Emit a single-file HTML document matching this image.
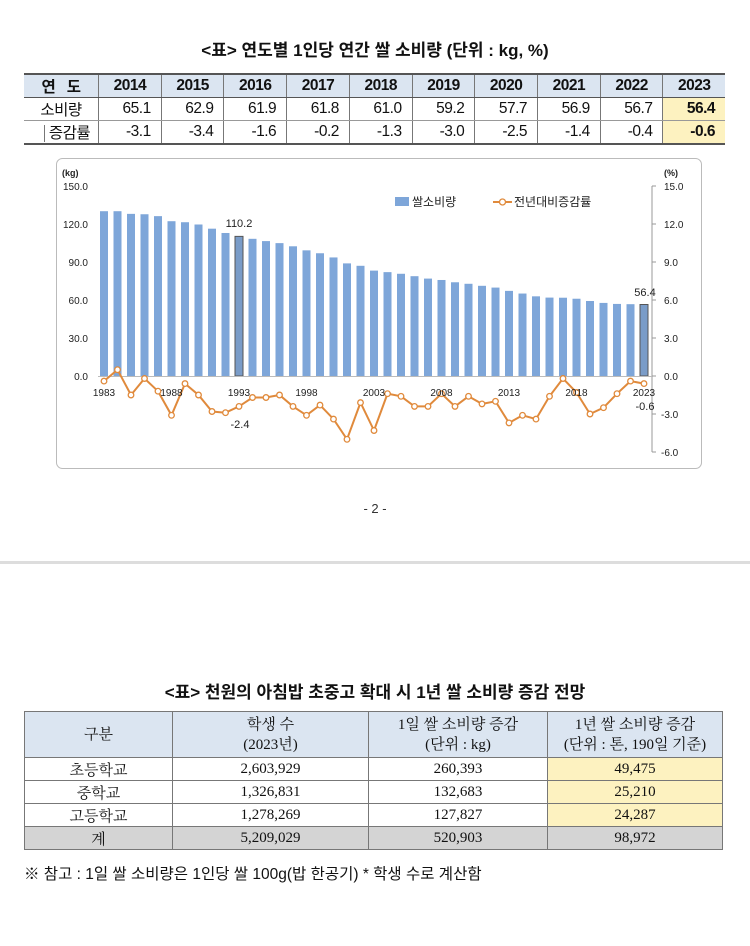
<!DOCTYPE html>
<html><head><meta charset="utf-8">
<style>
body{margin:0;width:750px;height:946px;background:#fff;position:relative;overflow:hidden;font-family:"Liberation Sans","Noto Sans CJK KR",sans-serif;color:#111}
.a{position:absolute}
table{border-collapse:collapse;position:absolute}
.t1{left:24px;top:73px;width:701px;font-size:15.5px}
.t1 td{height:22px;padding:0;text-align:center;border-left:1px solid #777;border-bottom:1px solid #999;letter-spacing:-0.5px}
.t1 tr:first-child td{background:#dbe5f1;border-top:2px solid #555;border-bottom:1px solid #555;font-weight:bold}
.t1 tr:last-child td{border-bottom:2px solid #555}
.t1 td:first-child{border-left:none}
.t1 td.num{text-align:right;padding-right:10px}
.y{background:#fdf2c0;font-weight:bold}
.t2{left:24px;top:711px;width:699px;font-family:"Liberation Serif","Noto Serif CJK SC",serif;font-size:15px}
.t2 td{border:1px solid #777;text-align:center;padding:0;height:22px}
.t2 tr:first-child td{background:#dbe5f1;height:45px;line-height:20px}
.t2 tr.tot td{background:#d4d4d4}
</style></head><body>
<div class="a" style="left:0;top:36px;width:750px;text-align:center;font-size:17px;font-weight:bold">&lt;표&gt; 연도별 1인당 연간 쌀 소비량 (단위 : kg, %)</div>
<table class="t1">
<tr><td style="width:74px">연 &nbsp; 도</td><td>2014</td><td>2015</td><td>2016</td><td>2017</td><td>2018</td><td>2019</td><td>2020</td><td>2021</td><td>2022</td><td>2023</td></tr>
<tr><td>소비량</td><td class="num">65.1</td><td class="num">62.9</td><td class="num">61.9</td><td class="num">61.8</td><td class="num">61.0</td><td class="num">59.2</td><td class="num">57.7</td><td class="num">56.9</td><td class="num">56.7</td><td class="num y">56.4</td></tr>
<tr><td style="padding-left:12px"><span style="border-left:1px solid #777;padding-left:4px">증감률</span></td><td class="num">-3.1</td><td class="num">-3.4</td><td class="num">-1.6</td><td class="num">-0.2</td><td class="num">-1.3</td><td class="num">-3.0</td><td class="num">-2.5</td><td class="num">-1.4</td><td class="num">-0.4</td><td class="num y">-0.6</td></tr>
</table>

<svg class="a" style="left:0;top:0" width="750" height="480" font-family="Liberation Sans, Noto Sans CJK KR, sans-serif">
<rect x="56.5" y="158.5" width="645" height="310" rx="6" fill="#fff" stroke="#bbb"/>
<g font-size="9" fill="#222" font-weight="bold">
<text x="62" y="176">(kg)</text><text x="664" y="176">(%)</text>
</g>
<g font-size="10" fill="#222" text-anchor="end">
<text x="88" y="190">150.0</text><text x="88" y="228">120.0</text><text x="88" y="266">90.0</text><text x="88" y="304">60.0</text><text x="88" y="342">30.0</text><text x="88" y="380">0.0</text>
</g>
<g font-size="10" fill="#222">
<text x="664" y="190">15.0</text><text x="664" y="228">12.0</text><text x="664" y="266">9.0</text><text x="664" y="304">6.0</text><text x="664" y="342">3.0</text><text x="664" y="380">0.0</text><text x="661" y="418">-3.0</text><text x="661" y="456">-6.0</text>
</g>
<line x1="652" y1="186" x2="652" y2="452" stroke="#999"/>
<g stroke="#999"><line x1="652" y1="186" x2="656" y2="186"/><line x1="652" y1="224" x2="656" y2="224"/><line x1="652" y1="262" x2="656" y2="262"/><line x1="652" y1="300" x2="656" y2="300"/><line x1="652" y1="338" x2="656" y2="338"/><line x1="652" y1="376" x2="656" y2="376"/><line x1="652" y1="414" x2="656" y2="414"/><line x1="652" y1="452" x2="656" y2="452"/></g>
<g transform="translate(0,376) scale(1,-1.2667)" fill="#7ea6d9">
<rect x="100" width="8" height="130.1"/><rect x="113.5" width="8" height="130.1"/><rect x="127" width="8" height="128"/><rect x="140.5" width="8" height="127.7"/><rect x="154" width="8" height="126.2"/>
<rect x="167.5" width="8" height="122.2"/><rect x="181" width="8" height="121.4"/><rect x="194.5" width="8" height="119.6"/><rect x="208" width="8" height="116.3"/><rect x="221.5" width="8" height="112.9"/>
<rect x="235" width="8" height="110.2" fill="#7a9cc8" stroke="#555" stroke-width="1" vector-effect="non-scaling-stroke"/><rect x="248.5" width="8" height="108.3"/><rect x="262" width="8" height="106.5"/><rect x="275.5" width="8" height="104.9"/><rect x="289" width="8" height="102.4"/>
<rect x="302.5" width="8" height="99.2"/><rect x="316" width="8" height="96.9"/><rect x="329.5" width="8" height="93.6"/><rect x="343" width="8" height="88.9"/><rect x="356.5" width="8" height="87"/>
<rect x="370" width="8" height="83.2"/><rect x="383.5" width="8" height="82"/><rect x="397" width="8" height="80.7"/><rect x="410.5" width="8" height="78.8"/><rect x="424" width="8" height="76.9"/>
<rect x="437.5" width="8" height="75.8"/><rect x="451" width="8" height="74"/><rect x="464.5" width="8" height="72.8"/><rect x="478" width="8" height="71.2"/><rect x="491.5" width="8" height="69.8"/>
<rect x="505" width="8" height="67.2"/><rect x="518.5" width="8" height="65.1"/><rect x="532" width="8" height="62.9"/><rect x="545.5" width="8" height="61.9"/><rect x="559" width="8" height="61.8"/>
<rect x="572.5" width="8" height="61"/><rect x="586" width="8" height="59.2"/><rect x="599.5" width="8" height="57.7"/><rect x="613" width="8" height="56.9"/><rect x="626.5" width="8" height="56.7"/>
<rect x="640" width="8" height="56.4" fill="#7a9cc8" stroke="#555" stroke-width="1" vector-effect="non-scaling-stroke"/>
</g>
<line x1="98" y1="376.5" x2="652" y2="376.5" stroke="#bbb"/>
<polyline fill="none" stroke="#e08a3c" stroke-width="2" points="104,381.1 117.5,369.7 131,395 144.5,378.5 158,391.2 171.5,415.3 185,383.6 198.5,395 212,411.5 225.5,412.7 239,406.4 252.5,397.5 266,397.5 279.5,395 293,406.4 306.5,415.3 320,405.1 333.5,419.1 347,439.3 360.5,402.6 374,430.5 387.5,393.7 401,396.3 414.5,406.4 428,406.4 441.5,393.7 455,406.4 468.5,396.3 482,403.9 495.5,401.3 509,422.9 522.5,415.3 536,419.1 549.5,396.3 563,378.5 576.5,392.5 590,414 603.5,407.7 617,393.7 630.5,381.1 644,383.6"/>
<g fill="#fff" stroke="#e08a3c" stroke-width="1.3">
<circle cx="104" cy="381.1" r="2.8"/><circle cx="117.5" cy="369.7" r="2.8"/><circle cx="131" cy="395" r="2.8"/><circle cx="144.5" cy="378.5" r="2.8"/><circle cx="158" cy="391.2" r="2.8"/><circle cx="171.5" cy="415.3" r="2.8"/><circle cx="185" cy="383.6" r="2.8"/><circle cx="198.5" cy="395" r="2.8"/><circle cx="212" cy="411.5" r="2.8"/><circle cx="225.5" cy="412.7" r="2.8"/><circle cx="239" cy="406.4" r="2.8"/><circle cx="252.5" cy="397.5" r="2.8"/><circle cx="266" cy="397.5" r="2.8"/><circle cx="279.5" cy="395" r="2.8"/><circle cx="293" cy="406.4" r="2.8"/><circle cx="306.5" cy="415.3" r="2.8"/><circle cx="320" cy="405.1" r="2.8"/><circle cx="333.5" cy="419.1" r="2.8"/><circle cx="347" cy="439.3" r="2.8"/><circle cx="360.5" cy="402.6" r="2.8"/><circle cx="374" cy="430.5" r="2.8"/><circle cx="387.5" cy="393.7" r="2.8"/><circle cx="401" cy="396.3" r="2.8"/><circle cx="414.5" cy="406.4" r="2.8"/><circle cx="428" cy="406.4" r="2.8"/><circle cx="441.5" cy="393.7" r="2.8"/><circle cx="455" cy="406.4" r="2.8"/><circle cx="468.5" cy="396.3" r="2.8"/><circle cx="482" cy="403.9" r="2.8"/><circle cx="495.5" cy="401.3" r="2.8"/><circle cx="509" cy="422.9" r="2.8"/><circle cx="522.5" cy="415.3" r="2.8"/><circle cx="536" cy="419.1" r="2.8"/><circle cx="549.5" cy="396.3" r="2.8"/><circle cx="563" cy="378.5" r="2.8"/><circle cx="576.5" cy="392.5" r="2.8"/><circle cx="590" cy="414" r="2.8"/><circle cx="603.5" cy="407.7" r="2.8"/><circle cx="617" cy="393.7" r="2.8"/><circle cx="630.5" cy="381.1" r="2.8"/><circle cx="644" cy="383.6" r="2.8"/>
</g>
<g font-size="10" fill="#222" text-anchor="middle">
<text x="104" y="396">1983</text><text x="171.5" y="396">1988</text><text x="239" y="396">1993</text><text x="306.5" y="396">1998</text><text x="374" y="396">2003</text><text x="441.5" y="396">2008</text><text x="509" y="396">2013</text><text x="576.5" y="396">2018</text><text x="644" y="396">2023</text>
</g>
<g font-size="11" fill="#222" text-anchor="middle">
<text x="239" y="227">110.2</text><text x="645" y="296">56.4</text><text x="240" y="428">-2.4</text><text x="645" y="410">-0.6</text>
</g>
<rect x="395" y="197" width="14" height="9" fill="#7ea6d9"/>
<text x="412" y="206" font-size="12" fill="#222">쌀소비량</text>
<line x1="493" y1="202" x2="512" y2="202" stroke="#e08a3c" stroke-width="2"/>
<circle cx="502.5" cy="202" r="3" fill="#fff" stroke="#e08a3c" stroke-width="1.3"/>
<text x="514" y="206" font-size="12" fill="#222">전년대비증감률</text>
</svg>

<div class="a" style="left:0;top:501px;width:750px;text-align:center;font-size:13px;color:#333">- 2 -</div>
<div class="a" style="left:0;top:561px;width:750px;height:3px;background:#ddd"></div>

<div class="a" style="left:0;top:678px;width:750px;text-align:center;font-size:17px;font-weight:bold">&lt;표&gt; 천원의 아침밥 초중고 확대 시 1년 쌀 소비량 증감 전망</div>
<table class="t2">
<tr><td style="width:147px">구분</td><td style="width:195px">학생 수<br>(2023년)</td><td style="width:178px">1일 쌀 소비량 증감<br>(단위 : kg)</td><td>1년 쌀 소비량 증감<br>(단위 : 톤, 190일 기준)</td></tr>
<tr><td>초등학교</td><td>2,603,929</td><td>260,393</td><td style="background:#fdf2c0">49,475</td></tr>
<tr><td>중학교</td><td>1,326,831</td><td>132,683</td><td style="background:#fdf2c0">25,210</td></tr>
<tr><td>고등학교</td><td>1,278,269</td><td>127,827</td><td style="background:#fdf2c0">24,287</td></tr>
<tr class="tot"><td>계</td><td>5,209,029</td><td>520,903</td><td>98,972</td></tr>
</table>
<div class="a" style="left:24px;top:862px;font-size:15.5px">※ 참고 : 1일 쌀 소비량은 1인당 쌀 100g(밥 한공기) * 학생 수로 계산함</div>
</body></html>
